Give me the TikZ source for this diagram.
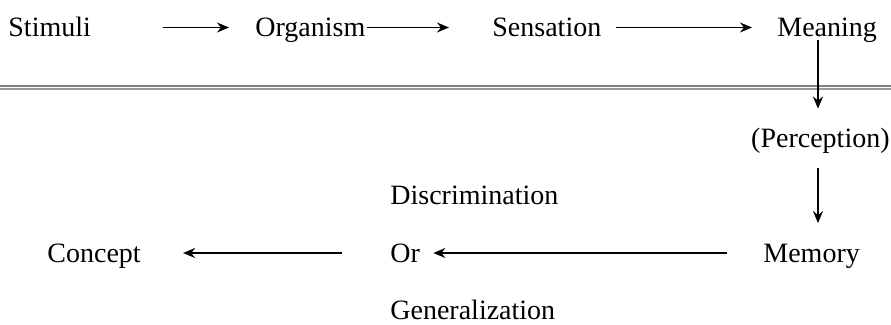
\documentclass[tikz,border=0pt]{standalone}
\usepackage{fontspec}
\setmainfont{Liberation Serif}
\usetikzlibrary{arrows.meta}

\begin{document}
\begin{tikzpicture}[x=0.5pt, y=-0.5pt, >={Stealth[length=6pt, width=5pt]},
    every node/.style={inner sep=0, text height=9.5pt, text depth=0pt, font=\fontsize{14}{16}\selectfont},
    flow/.style={->, line width=0.75pt}]
    \useasboundingbox (0,0) rectangle (891,325);
    \node (stim) at (8,27.5) [anchor=west] {Stimuli};
    \node (org) at (255,27.5) [anchor=west] {Organism};
    \node (sens) at (492,27.5) [anchor=west] {Sensation};
    \node (mean) at (777,27.5) [anchor=west] {Meaning};
    \node (perc) at (890,138.5) [anchor=east] {(Perception)};
    \node (disc) at (390,195.5) [anchor=west] {Discrimination};
    \node (or) at (390,253) [anchor=west] {Or};
    \node (mem) at (763,253) [anchor=west] {Memory};
    \node (conc) at (47,253) [anchor=west] {Concept};
    \node (gen) at (390,310.5) [anchor=west] {Generalization};
    \coordinate (down) at (818,0);
    \draw [flow, shorten <=36pt, shorten >=13pt] (stim.east) -- (org.west);
    \draw [flow, shorten <=0.5pt, shorten >=21.5pt] (org.east) -- (sens.west);
    \draw [flow, shorten <=7pt, shorten >=12.5pt] (sens.east) -- (mean.west);
    \draw [gray, line width=0.6pt] (0,86) -- (891,86);
    \draw [gray!80, line width=0.6pt] (0,89) -- (891,89);
    \draw [flow, shorten <=1.5pt, shorten >=10pt] (mean.south -| down) -- (perc.north -| down);
    \draw [flow, shorten <=10pt, shorten >=10pt] (perc.south -| down) -- (mem.north -| down);
    \draw [flow, shorten <=18pt, shorten >=6.5pt] (mem.west) -- (or.east);
    \draw [flow, shorten <=24pt, shorten >=21pt] (or.west) -- (conc.east);
\end{tikzpicture}
\end{document}
